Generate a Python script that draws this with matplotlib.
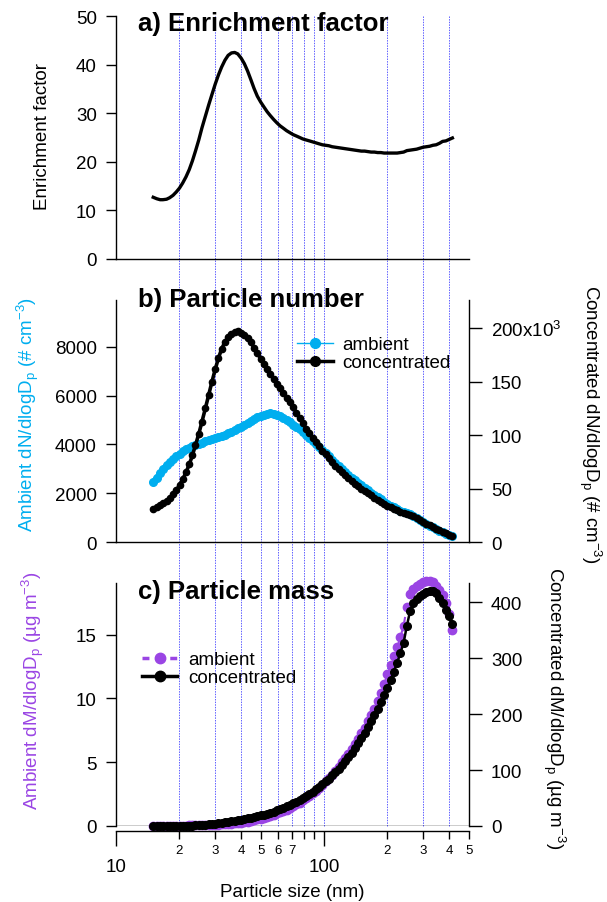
import matplotlib
matplotlib.use('Agg')
import matplotlib.pyplot as plt
import matplotlib.transforms as mtransforms
from matplotlib.lines import Line2D
from matplotlib.ticker import FixedLocator, FuncFormatter

plt.rcParams['font.family'] = ['Liberation Sans', 'DejaVu Sans']
plt.rcParams['mathtext.default'] = 'regular'
plt.rcParams['font.size'] = 13.5

# particle diameter bins (nm)
diam = [15.1, 15.7, 16.3, 16.8, 17.5, 18.1, 18.8, 19.5, 20.2, 20.9,
        21.7, 22.5, 23.3, 24.1, 25.0, 25.9, 26.9, 27.9, 28.9, 30.0,
        31.1, 32.2, 33.4, 34.6, 35.9, 37.2, 38.5, 40.0, 41.4, 42.9,
        44.5, 46.1, 47.8, 49.6, 51.4, 53.3, 55.2, 57.3, 59.4, 61.5,
        63.8, 66.1, 68.5, 71.0, 73.7, 76.4, 79.1, 82.0, 85.1, 88.2,
        91.4, 94.7, 98.2, 101.8, 105.5, 109.4, 113.4, 117.6, 121.9, 126.3,
        131.0, 135.8, 140.7, 145.9, 151.2, 156.8, 162.5, 168.5, 174.7, 181.1,
        187.7, 194.6, 201.7, 209.1, 216.7, 224.7, 232.9, 241.4, 250.3, 259.5,
        269.0, 278.8, 289.0, 299.6, 310.6, 322.0, 333.8, 346.0, 358.7, 371.8,
        385.4, 399.5, 414.2]

enrich = [12.7, 12.4, 12.2, 12.2, 12.3, 12.6, 13.1, 13.8, 14.6, 15.6,
          16.9, 18.4, 20.2, 22.2, 24.5, 27.0, 29.4, 31.7, 33.8, 36.0,
          37.9, 39.5, 40.9, 41.9, 42.4, 42.5, 42.2, 41.3, 40.2, 38.7,
          36.9, 35.1, 33.5, 32.3, 31.3, 30.3, 29.5, 28.7, 28.0, 27.4,
          26.9, 26.4, 26.0, 25.6, 25.3, 25.0, 24.7, 24.5, 24.3, 24.1,
          23.9, 23.7, 23.5, 23.4, 23.3, 23.1, 23.0, 22.9, 22.8, 22.7,
          22.6, 22.5, 22.4, 22.3, 22.2, 22.2, 22.1, 22.0, 22.0, 21.9,
          21.9, 21.8, 21.8, 21.8, 21.8, 21.8, 21.9, 22.0, 22.3, 22.4,
          22.5, 22.6, 22.8, 23.0, 23.1, 23.2, 23.4, 23.5, 23.8, 24.2,
          24.3, 24.6, 24.9]

# dN/dlogDp, # cm-3
amb_num = [2450, 2640, 2830, 2990, 3150, 3290, 3410, 3520, 3620, 3720,
           3800, 3870, 3930, 3980, 4030, 4080, 4130, 4170, 4210, 4250,
           4290, 4340, 4400, 4460, 4530, 4600, 4660, 4730, 4800, 4880,
           4960, 5040, 5110, 5170, 5220, 5260, 5280, 5270, 5230, 5160,
           5080, 5000, 4910, 4820, 4720, 4620, 4510, 4390, 4270, 4150,
           4030, 3900, 3770, 3640, 3510, 3380, 3250, 3120, 3000, 2880,
           2760, 2640, 2530, 2420, 2320, 2220, 2120, 2020, 1930, 1840,
           1750, 1660, 1570, 1490, 1420, 1350, 1290, 1240, 1190, 1140,
           1080, 1000, 900, 800, 730, 660, 600, 530, 460, 400,
           340, 285, 240]

# concentrated dN/dlogDp, 10^3 # cm-3
conc_num = [31.0, 32.5, 34.3, 36.2, 38.6, 41.2, 44.5, 48.5, 53.0, 58.5,
            65.0, 72.5, 81.0, 90.5, 101.0, 112.5, 125.0, 137.5, 149.5, 161.5,
            172.0, 180.5, 187.0, 191.5, 194.5, 196.3, 196.8, 195.8, 193.5, 190.5,
            186.5, 181.5, 176.5, 171.5, 166.5, 161.5, 157.0, 152.5, 148.0, 144.0,
            139.5, 135.0, 130.5, 126.0, 121.0, 116.0, 111.0, 106.0, 101.5, 97.5,
            93.5, 89.5, 85.5, 82.0, 78.5, 75.0, 71.5, 68.5, 65.5, 62.5,
            59.5, 57.0, 54.5, 52.0, 49.8, 47.6, 45.5, 43.5, 41.5, 39.5,
            37.6, 35.7, 33.9, 32.3, 30.8, 29.5, 28.3, 27.2, 26.2, 25.5,
            24.0, 22.6, 20.5, 18.4, 17.0, 15.5, 14.0, 12.4, 11.0, 9.6,
            8.2, 7.0, 5.9]

# dM/dlogDp, ug m-3
amb_mass = [0.008, 0.009, 0.011, 0.013, 0.015, 0.018, 0.02, 0.024, 0.027, 0.031,
            0.035, 0.04, 0.045, 0.05, 0.057, 0.064, 0.073, 0.082, 0.092, 0.104,
            0.117, 0.131, 0.148, 0.167, 0.19, 0.21, 0.24, 0.27, 0.31, 0.35,
            0.40, 0.45, 0.51, 0.57, 0.64, 0.72, 0.80, 0.89, 0.98, 1.08,
            1.18, 1.29, 1.41, 1.54, 1.69, 1.84, 2.00, 2.17, 2.35, 2.55,
            2.77, 3.00, 3.24, 3.49, 3.75, 4.03, 4.33, 4.65, 4.98, 5.32,
            5.68, 6.06, 6.45, 6.85, 7.27, 7.72, 8.2, 8.7, 9.2, 9.8,
            10.4, 11.1, 11.9, 12.6, 13.3, 14.0, 14.8, 15.7, 17.2, 18.2,
            18.6, 18.8, 19.0, 19.1, 19.2, 19.2, 19.1, 18.8, 18.5, 18.1,
            17.5, 16.6, 15.4]

conc_mass = [0.1, 0.12, 0.14, 0.16, 0.19, 0.23, 0.27, 0.33, 0.39, 0.47,
             0.58, 0.72, 0.89, 1.1, 1.4, 1.75, 2.2, 2.7, 3.3, 3.95,
             4.7, 5.5, 6.3, 7.2, 8.1, 9.1, 10.1, 11.3, 12.4, 13.6,
             14.9, 16.1, 17.5, 18.9, 20.4, 22.0, 23.8, 25.8, 27.9, 30.2,
             32.6, 35.1, 37.9, 40.8, 43.8, 47.0, 50.3, 53.8, 57.5, 61.5,
             65.6, 70.0, 74.7, 79.6, 84.8, 90.3, 96.2, 102.4, 109.0, 116.0,
             123.4, 131.2, 139.4, 148.0, 157.0, 166.5, 176.5, 187.0, 198.0, 209.5,
             221.5, 234.0, 247.0, 261.0, 276.0, 292.0, 309.0, 328.0, 358.0, 385.0,
             398.0, 406.0, 411.0, 415.0, 418.0, 420.0, 420.5, 417.0, 408.0, 398.0,
             387.0, 376.0, 362.0]

gridlines = [20, 30, 40, 50, 60, 70, 80, 90, 100, 200, 300, 400]
minor_ticks = [20, 30, 40, 50, 60, 70, 80, 90, 200, 300, 400, 500]
minor_labels = {20: '2', 30: '3', 40: '4', 50: '5', 60: '6', 70: '7',
                200: '2', 300: '3', 400: '4', 500: '5'}

blue = '#00AEEF'
purple = '#9A45E4'

W, H = 607, 903
fig = plt.figure(figsize=(W / 100, H / 100), dpi=100)

def box(top, bottom):
    return [116 / W, 1 - bottom / H, (469.4 - 116) / W, (bottom - top) / H]

ax_a = fig.add_axes(box(17, 260))
ax_b = fig.add_axes(box(301, 543))
ax_c = fig.add_axes(box(584, 827))
ax_b2 = ax_b.twinx()
ax_c2 = ax_c.twinx()

for ax in (ax_a, ax_b, ax_c, ax_b2, ax_c2):
    ax.patch.set_visible(False)
    ax.set_xscale('log')
    ax.set_xlim(10, 500)
    ax.spines['top'].set_visible(False)
    for s in ax.spines.values():
        s.set_linewidth(1.0)
for ax in (ax_a, ax_b, ax_c):
    ax.spines['right'].set_visible(False)
    ax.tick_params(axis='y', direction='out', length=7.2, width=1, pad=6.5)
for ax in (ax_b2, ax_c2):
    ax.spines['left'].set_visible(False)
    ax.spines['bottom'].set_visible(False)
    ax.tick_params(axis='y', direction='out', length=9, width=1, pad=6.5)
for ax in (ax_a, ax_b):
    ax.tick_params(axis='x', which='both', bottom=False, labelbottom=False)

# a) enrichment factor
ax_a.plot(diam, enrich, color='k', lw=2.4, clip_on=False)
ax_a.set_ylim(0, 50)
ax_a.set_yticks([0, 10, 20, 30, 40, 50])
ax_a.set_ylabel('Enrichment factor')
ax_a.yaxis.label.set_va('center')
ax_a.yaxis.set_label_coords(-0.207, 0.51)
ax_a.text(0.062, 0.973, 'a) Enrichment factor', transform=ax_a.transAxes,
          fontsize=18.5, fontweight='bold', va='center', ha='left')

# b) number
ax_b.plot(diam, amb_num, color=blue, lw=4, marker='o', ms=5.5, mec=blue, mfc=blue,
          solid_capstyle='round', clip_on=False)
ax_b2.plot(diam, conc_num, color='k', lw=2.6, marker='o', ms=4.5, clip_on=False)
ax_b.set_ylim(0, 9928)
ax_b.set_yticks([0, 2000, 4000, 6000, 8000])
ax_b2.set_ylim(0, 226.2)
ax_b2.set_yticks([0, 50, 100, 150, 200])
ax_b2.set_yticklabels(['0', '50', '100', '150', '200x10$^{3}$'])
ax_b.set_ylabel('Ambient dN/dlogD$_p$ (# cm$^{-3}$)', color=blue)
ax_b.yaxis.label.set_va('center')
ax_b.yaxis.set_label_coords(-0.249, 0.53)
ax_b2.set_ylabel('Concentrated dN/dlogD$_p$ (# cm$^{-3}$)', rotation=270)
ax_b2.yaxis.label.set_va('center')
ax_b2.yaxis.set_label_coords(1.341, 0.49)
ax_b.text(0.062, 1.004, 'b) Particle number', transform=ax_b.transAxes,
          fontsize=18.5, fontweight='bold', va='center', ha='left')

hb = [Line2D([], [], color=blue, lw=1, marker='o', ms=7, mfc=blue, mec=blue),
      Line2D([], [], color='k', lw=2.5, marker='o', ms=7)]
fig.legend(hb, ['ambient', 'concentrated'], loc='upper left',
           bbox_to_anchor=(297 / W, 1 - 337 / H), frameon=False,
           handlelength=1.92, handletextpad=0.48, borderpad=0,
           borderaxespad=0, labelspacing=0.05, fontsize=13.5)

# c) mass
ax_c.plot(diam, amb_mass, color=purple, lw=1.5, ls=(0, (3, 3)), marker='o',
          ms=6, mec=purple, mfc=purple, clip_on=False)
ax_c2.plot(diam, conc_mass, color='k', lw=1.8, marker='o', ms=5.5, clip_on=False)
ax_c.axhline(0, color='k', lw=1.0, zorder=1)
ax_c.set_ylim(0, 19.05)
ax_c.set_yticks([0, 5, 10, 15])
ax_c2.set_ylim(0, 434.5)
ax_c2.set_yticks([0, 100, 200, 300, 400])
ax_c.set_ylabel('Ambient dM/dlogD$_p$ (\u00b5g m$^{-3}$)', color=purple)
ax_c.yaxis.label.set_va('center')
ax_c.yaxis.set_label_coords(-0.235, 0.56)
ax_c2.set_ylabel('Concentrated dM/dlogD$_p$ (\u00b5g m$^{-3}$)', rotation=270)
ax_c2.yaxis.label.set_va('center')
ax_c2.yaxis.set_label_coords(1.24, 0.49)
ax_c.text(0.062, 0.967, 'c) Particle mass', transform=ax_c.transAxes,
          fontsize=18.5, fontweight='bold', va='center', ha='left')

hc = [Line2D([], [], color=purple, lw=2.5, ls=(0, (2, 2)), marker='o', ms=7.5,
             mfc=purple, mec=purple),
      Line2D([], [], color='k', lw=2.5, marker='o', ms=7.5)]
fig.legend(hc, ['ambient', 'concentrated'], loc='upper left',
           bbox_to_anchor=(142 / W, 1 - 652 / H), frameon=False,
           handlelength=1.87, handletextpad=0.59, borderpad=0,
           borderaxespad=0, labelspacing=0.05, fontsize=13.5)

ax_c.spines['bottom'].set_position(('outward', 3.6))
ax_c.xaxis.set_major_locator(FixedLocator([10, 100]))
ax_c.xaxis.set_minor_locator(FixedLocator(minor_ticks))
ax_c.xaxis.set_major_formatter(FuncFormatter(lambda v, p: '%g' % v))
ax_c.xaxis.set_minor_formatter(FuncFormatter(lambda v, p: minor_labels.get(int(round(v)), '')))
ax_c.tick_params(axis='x', which='major', direction='out', length=10.8, width=1, pad=8.6, labelsize=13.5)
ax_c.tick_params(axis='x', which='minor', direction='out', length=5.8, width=1, pad=3.6, labelsize=9.5)
ax_c.set_xlabel('Particle size (nm)', labelpad=6)

# dotted guide lines running through all panels
trans = mtransforms.blended_transform_factory(ax_c.transData, fig.transFigure)
for gx in gridlines:
    fig.add_artist(Line2D([gx, gx], [1 - 17 / H, 1 - 827 / H], transform=trans,
                          color='#6060FF', lw=0.7, ls=(0, (1.5, 1.2)), zorder=-1))

fig.savefig('out.png', dpi=100, facecolor='white')
